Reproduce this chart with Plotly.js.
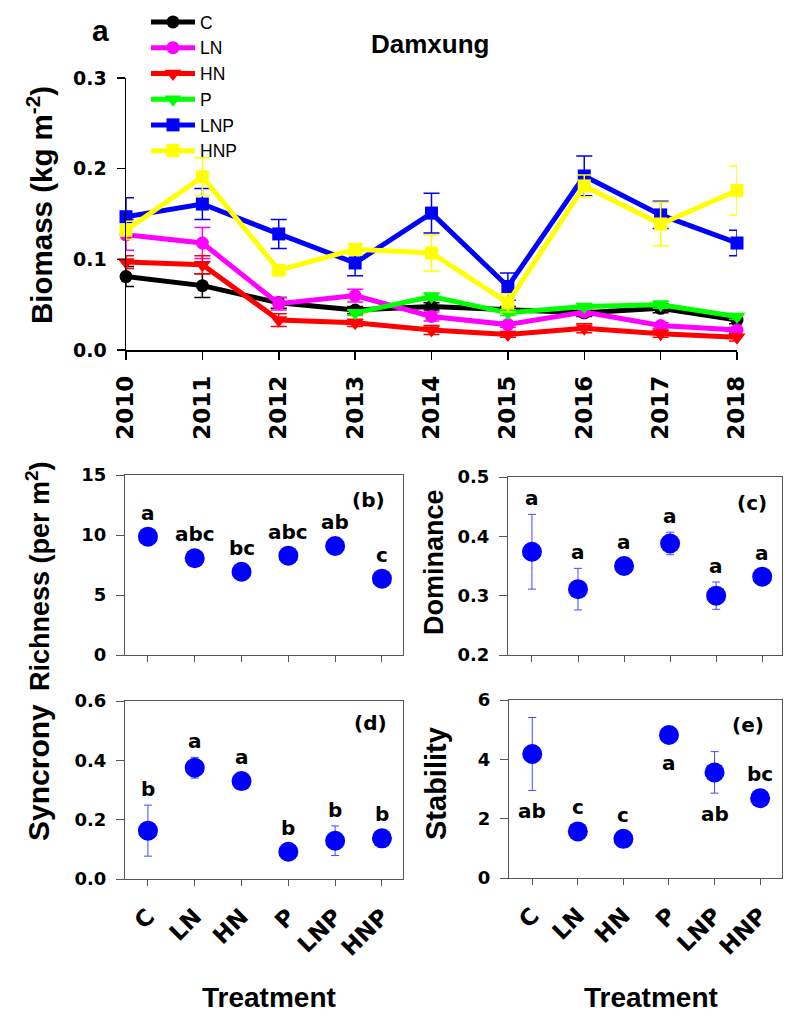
<!DOCTYPE html>
<html><head><meta charset="utf-8">
<script src="https://cdn.plot.ly/plotly-3.0.1.min.js"></script>
<style>html,body{margin:0;padding:0;background:#fff}#chart{width:800px;height:1020px}</style>
</head><body><div id="chart"></div>
<script>
// ---------- Data: panel a (biomass, kg m-2) ----------
const years = [2010, 2011, 2012, 2013, 2014, 2015, 2016, 2017, 2018];
const seriesNames = ['C', 'LN', 'HN', 'P', 'LNP', 'HNP'];
const C_mean   = [0.081, 0.071, 0.052, 0.044, 0.048, 0.045, 0.041, 0.046, 0.033];
const C_err    = [0.011, 0.013, 0.006, 0.004, 0.004, 0.003, 0.004, 0.005, 0.004];
const LN_mean  = [0.127, 0.118, 0.051, 0.060, 0.037, 0.028, 0.042, 0.027, 0.022];
const LN_err   = [0.017, 0.017, 0.007, 0.007, 0.005, 0.003, 0.004, 0.003, 0.003];
const HN_mean  = [0.097, 0.094, 0.033, 0.030, 0.022, 0.017, 0.024, 0.018, 0.014];
const HN_err   = [0.007, 0.010, 0.007, 0.004, 0.005, 0.003, 0.005, 0.004, 0.004];
const P_mean   = [null, null, null, 0.041, 0.059, 0.041, 0.048, 0.050, 0.037];
const P_err    = [null, null, null, 0.003, 0.004, 0.003, 0.003, 0.004, 0.003];
const LNP_mean = [0.147, 0.161, 0.128, 0.096, 0.151, 0.070, 0.192, 0.149, 0.118];
const LNP_err  = [0.021, 0.017, 0.016, 0.014, 0.022, 0.015, 0.022, 0.015, 0.014];
const HNP_mean = [0.132, 0.191, 0.088, 0.111, 0.107, 0.052, 0.181, 0.139, 0.176];
const HNP_err  = [0.010, 0.021, 0.004, 0.006, 0.020, 0.010, 0.012, 0.024, 0.027];

// ---------- Data: panels b-e ----------
const treatments = ['C', 'LN', 'HN', 'P', 'LNP', 'HNP'];
const richness      = [9.86, 8.06, 6.94, 8.28, 9.08, 6.36];
const richness_err  = [0, 0, 0, 0, 0, 0];
const richness_let  = ['a', 'abc', 'bc', 'abc', 'ab', 'c'];
const richness_side = [1, 1, 1, 1, 1, 1];
const dominance      = [0.374, 0.311, 0.350, 0.388, 0.300, 0.332];
const dominance_err  = [0.063, 0.035, 0, 0.019, 0.023, 0];
const dominance_let  = ['a', 'a', 'a', 'a', 'a', 'a'];
const dominance_side = [1, 1, 1, 1, 1, 1];
const syncrony      = [0.163, 0.375, 0.330, 0.092, 0.129, 0.137];
const syncrony_err  = [0.086, 0.035, 0, 0, 0.050, 0];
const syncrony_let  = ['b', 'a', 'a', 'b', 'b', 'b'];
const syncrony_side = [1, 1, 1, 1, 1, 1];
const stability      = [4.18, 1.57, 1.32, 4.82, 3.56, 2.69];
const stability_err  = [1.23, 0, 0, 0, 0.70, 0];
const stability_let  = ['ab', 'c', 'c', 'a', 'ab', 'bc'];
const stability_side = [-1, 1, 1, -1, -1, 1];

// ---------- Styling ----------
const W = 800, H = 1020;
const px2x = p => p / W;
const px2y = p => 1 - p / H;
const ARIAL = 'Liberation Sans, Arial, sans-serif';
const DJ = 'DejaVu Sans, sans-serif';
const frameCol = '#555555';
const dotBlue = '#0000FF';
const errBlue = '#4848FF';

const styleA = {
  C:   {color: '#000000', symbol: 'circle'},
  LN:  {color: '#FF00FF', symbol: 'circle'},
  HN:  {color: '#FF0000', symbol: 'triangle-down'},
  P:   {color: '#00FF00', symbol: 'triangle-down'},
  LNP: {color: '#0000FF', symbol: 'square'},
  HNP: {color: '#FFFF00', symbol: 'square'}
};
const meansA = {C: C_mean, LN: LN_mean, HN: HN_mean, P: P_mean, LNP: LNP_mean, HNP: HNP_mean};
const errsA  = {C: C_err, LN: LN_err, HN: HN_err, P: P_err, LNP: LNP_err, HNP: HNP_err};

const traces = [];
seriesNames.forEach(n => {
  const s = styleA[n];
  traces.push({
    type: 'scatter', mode: 'lines+markers', name: n, legendgroup: n,
    x: years, y: meansA[n], xaxis: 'x', yaxis: 'y',
    line: {color: s.color, width: 5},
    marker: {color: s.color, symbol: s.symbol, size: s.symbol === 'triangle-down' ? 15 : 13, line: {width: 0}},
    error_y: {type: 'data', array: errsA[n], visible: true, color: s.color, thickness: 1.5, width: 8},
    cliponaxis: false, connectgaps: false, showlegend: true
  });
});

const panels = [
  {vals: richness, err: richness_err, let: richness_let, side: richness_side, xa: 'x2', ya: 'y2'},
  {vals: dominance, err: dominance_err, let: dominance_let, side: dominance_side, xa: 'x3', ya: 'y3'},
  {vals: syncrony, err: syncrony_err, let: syncrony_let, side: syncrony_side, xa: 'x4', ya: 'y4'},
  {vals: stability, err: stability_err, let: stability_let, side: stability_side, xa: 'x5', ya: 'y5'}
];
const annotations = [];
panels.forEach(p => {
  traces.push({
    type: 'scatter', mode: 'markers', x: treatments, y: p.vals, xaxis: p.xa, yaxis: p.ya,
    marker: {color: dotBlue, size: 20, line: {width: 0}},
    error_y: {type: 'data', array: p.err, visible: true, color: errBlue, thickness: 1, width: 4},
    cliponaxis: false, showlegend: false, hoverinfo: 'x+y'
  });
  treatments.forEach((t, i) => {
    const up = p.side[i] > 0;
    const e = p.err[i];
    annotations.push({
      xref: p.xa, yref: p.ya, x: t, y: up ? p.vals[i] + e : p.vals[i] - e,
      yshift: up ? (e > 0 ? 16 : 24) : (e > 0 ? -21 : -28),
      text: p.let[i], showarrow: false,
      font: {family: DJ, size: 20, color: '#000', weight: 'bold'}
    });
  });
});

// Text labels (titles, panel tags)
function lab(text, xp, yp, size, opts) {
  annotations.push(Object.assign({
    xref: 'paper', yref: 'paper', x: px2x(xp), y: px2y(yp), xanchor: 'center', yanchor: 'middle',
    text: text, showarrow: false, font: {family: ARIAL, size: size, color: '#000', weight: 'bold'}
  }, opts || {}));
}
lab('a', 100, 30, 30);
lab('Damxung', 430, 44, 26);
lab('Biomass (kg m<sup>-2</sup>)', 40, 205, 29.5, {textangle: -90});
lab('Richness (per m<sup>2</sup>)', 38, 576, 27, {textangle: -90});
lab('Syncrony', 38, 773, 30, {textangle: -90});
lab('Dominance', 434, 562, 27, {textangle: -90});
lab('Stability', 436, 784, 29, {textangle: -90});
lab('Treatment', 269, 997, 28);
lab('Treatment', 651, 997, 28);
lab('(b)', 368, 500, 20, {font: {family: DJ, size: 20, color: '#000', weight: 'bold'}});
lab('(c)', 752, 503, 20, {font: {family: DJ, size: 20, color: '#000', weight: 'bold'}});
lab('(d)', 370, 723, 20, {font: {family: DJ, size: 20, color: '#000', weight: 'bold'}});
lab('(e)', 748, 725, 20, {font: {family: DJ, size: 20, color: '#000', weight: 'bold'}});

const tickFont = {family: DJ, size: 18, color: '#000', weight: 'bold'};
function boxX(d, labels, range) {
  return {
    domain: d, type: 'category', categoryorder: 'array', categoryarray: treatments,
    range: range, showline: true, mirror: true, linecolor: frameCol, linewidth: 1,
    ticks: 'outside', ticklen: 6, tickcolor: frameCol, tickwidth: 1,
    showgrid: false, zeroline: false, showticklabels: labels,
    tickangle: -45, tickfont: {family: DJ, size: 23, color: '#000', weight: 'bold'}, ticklabelstandoff: 8
  };
}
function boxY(d, range, dtick, fmt) {
  return {
    domain: d, range: range, dtick: dtick, tickformat: fmt, showline: true, mirror: true,
    linecolor: frameCol, linewidth: 1, ticks: 'outside', ticklen: 8, tickcolor: frameCol, tickwidth: 1,
    showgrid: false, zeroline: false, tickfont: tickFont, ticklabelstandoff: 6
  };
}

const layout = {
  width: W, height: H, autosize: false,
  margin: {l: 0, r: 0, t: 0, b: 0},
  paper_bgcolor: '#fff', plot_bgcolor: 'rgba(0,0,0,0)',
  font: {family: ARIAL, color: '#000'},
  showlegend: true,
  legend: {
    x: px2x(146), y: px2y(4), xanchor: 'left', yanchor: 'top',
    font: {family: ARIAL, size: 17.5, color: '#000'}, bgcolor: 'rgba(0,0,0,0)',
    traceorder: 'grouped', tracegroupgap: 0, borderwidth: 0, itemwidth: 44
  },
  xaxis: {
    domain: [px2x(126), px2x(737)], anchor: 'y', range: [2010, 2018],
    tickvals: years, ticktext: years.map(String), tickangle: -90,
    showline: true, linecolor: '#000', linewidth: 1.5, ticks: 'outside', ticklen: 8, tickwidth: 1.5, tickcolor: '#000',
    showgrid: false, zeroline: false, tickfont: {family: DJ, size: 23, color: '#000', weight: 'bold'}, ticklabelstandoff: 7
  },
  yaxis: {
    domain: [px2y(350), px2y(78)], anchor: 'x', range: [0, 0.3], dtick: 0.1, tickformat: '.1f',
    showline: true, linecolor: '#000', linewidth: 1.5, ticks: 'outside', ticklen: 8, tickwidth: 1.5, tickcolor: '#000',
    showgrid: false, zeroline: false, tickfont: {family: DJ, size: 19, color: '#000', weight: 'bold'}, ticklabelstandoff: 6
  },
  xaxis2: Object.assign(boxX([px2x(125), px2x(403)], false, [-0.49, 5.45]), {anchor: 'y2'}),
  yaxis2: Object.assign(boxY([px2y(655), px2y(475)], [0, 15], 5, 'd'), {anchor: 'x2'}),
  xaxis3: Object.assign(boxX([px2x(508), px2x(782)], false, [-0.52, 5.43]), {anchor: 'y3'}),
  yaxis3: Object.assign(boxY([px2y(655), px2y(477)], [0.2, 0.5], 0.1, '.1f'), {anchor: 'x3'}),
  xaxis4: Object.assign(boxX([px2x(125), px2x(403)], true, [-0.49, 5.45]), {anchor: 'y4'}),
  yaxis4: Object.assign(boxY([px2y(879), px2y(701)], [0, 0.6], 0.2, '.1f'), {anchor: 'x4'}),
  xaxis5: Object.assign(boxX([px2x(509), px2x(782)], true, [-0.51, 5.48]), {anchor: 'y5'}),
  yaxis5: Object.assign(boxY([px2y(878), px2y(700)], [0, 6], 2, 'd'), {anchor: 'x5'}),
  annotations: annotations
};

Plotly.newPlot('chart', traces, layout, {displayModeBar: false, staticPlot: true});
</script>
</body></html>
